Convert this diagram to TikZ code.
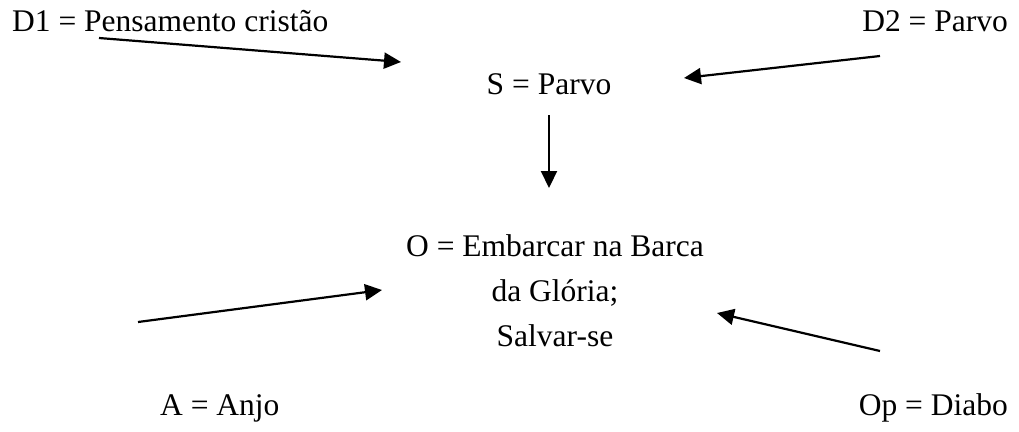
\documentclass[tikz,border=0pt]{standalone}
\usepackage{fontspec}
\setmainfont{Liberation Serif}
\usetikzlibrary{arrows.meta}
\begin{document}
\begin{tikzpicture}[x=1pt,y=-1pt,
  lbl/.style={inner sep=0pt,font=\fontsize{31.5}{38}\selectfont},
  arr/.style={line width=2.2pt,-{Triangle[length=17pt,width=16pt]}}]
\useasboundingbox (0,0) rectangle (1019,431);
% texts
\node[lbl,anchor=base west] (d1) at (12,31) {D1 = Pensamento cristão};
\node[lbl,anchor=base east] (d2) at (1008,31) {D2 = Parvo};
\node[lbl,anchor=base] (s) at (549,94) {S = Parvo};
\node[lbl,anchor=base] (o1) at (555,256) {O = Embarcar na Barca};
\node[lbl,anchor=base] (o2) at (555,301) {da Glória;};
\node[lbl,anchor=base] (o3) at (555,346) {Salvar-se};
\node[lbl,anchor=base west] (a) at (160,415) {A = Anjo};
\node[lbl,anchor=base east] (op) at (1008,415) {Op = Diabo};
% arrow end points
\coordinate (d1s) at (99,38);
\coordinate (d1e) at (401,62);
\coordinate (d2s) at (880,56);
\coordinate (d2e) at (684,78);
\coordinate (ss) at (549,115);
\coordinate (se) at (549,188);
\coordinate (as) at (138,322);
\coordinate (ae) at (382,290);
\coordinate (ops) at (880,351);
\coordinate (ope) at (717,313);
% arrows
\draw[arr] (d1s) -- (d1e);
\draw[arr] (d2s) -- (d2e);
\draw[arr] (ss) -- (se);
\draw[arr] (as) -- (ae);
\draw[arr] (ops) -- (ope);
\end{tikzpicture}
\end{document}
